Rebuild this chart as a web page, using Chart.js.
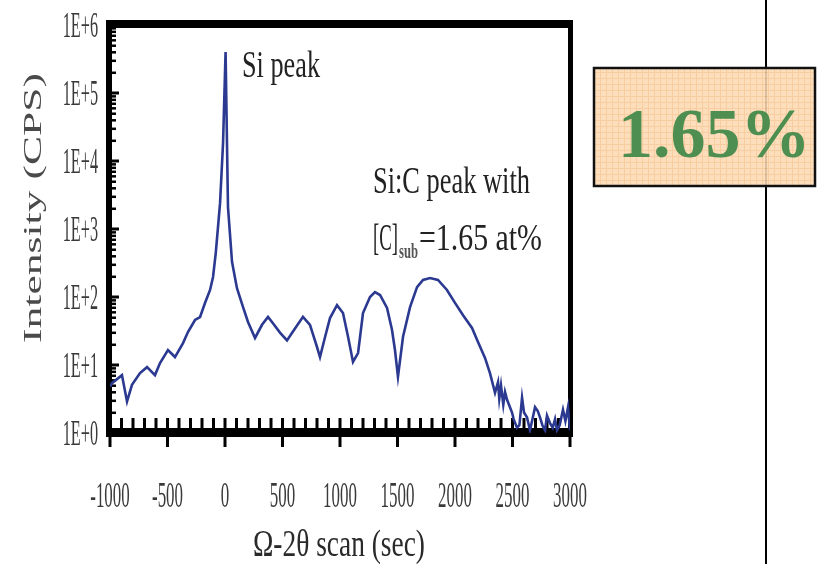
<!DOCTYPE html>
<html>
<head>
<meta charset="utf-8">
<script src="https://cdn.jsdelivr.net/npm/chart.js@4/dist/chart.umd.min.js"></script>
<style>
  html, body { margin: 0; padding: 0; background: #ffffff; }
  #wrap { width: 822px; height: 564px; }
</style>
</head>
<body>
<div id="wrap"><canvas id="xrd" width="822" height="564"></canvas></div>
<script>
// Ω-2θ rocking curve of a Si:C layer on Si (intensity in counts per second)
const scanSec = [
  -1000, -983, -896, -852, -809, -739, -678, -609, -565, -496, -435, -365, -322, -261, -217,
  -174, -130, -104, -80, -43, -17, 5, 26, 61, 104, 157, 200, 261, 322, 374, 417, 478, 539,
  591, 678, 739, 800, 826, 870, 913, 974, 1026, 1070, 1113, 1157, 1200, 1261, 1304, 1348,
  1409, 1452, 1478, 1504, 1548, 1609, 1670, 1722, 1783, 1852, 1930, 2000, 2070, 2148, 2200,
  2261, 2304, 2348, 2374, 2385, 2400, 2420, 2435, 2452, 2496, 2510, 2539, 2560, 2583, 2600,
  2626, 2652, 2670, 2696, 2720, 2739, 2760, 2783, 2800, 2826, 2850, 2870, 2887, 2910, 2939,
  2960, 2983, 3000
];
const intensityCps = [
  4.8, 5.4, 7.1, 2.9, 5.1, 7.6, 9.3, 7.1, 10.7, 16.6, 13.1, 21, 30.6, 45.9, 50.8,
  81.6, 127, 197, 450, 2400, 18300, 400000, 2100, 330, 135, 71, 43, 25, 39, 51, 41, 30, 23,
  31, 51, 39, 18.4, 13.1, 25.8, 49, 76, 58, 26, 11.1, 15, 58, 100, 118, 107,
  69, 33, 16.6, 6.7, 26, 71, 140, 178, 190, 178, 127, 82, 54, 35, 21.8,
  12.7, 7.6, 3.9, 5.6, 3.2, 5.0, 2.6, 4.0, 3.1, 2.0, 1.6, 1.2, 1.3, 3.3, 2.0,
  1.7, 1.1, 1.5, 2.4, 2.1, 1.7, 1.3, 1.1, 1.8, 1.4, 1.2, 1.6, 1.1, 1.3, 2.2,
  1.5, 2.4, 1.1
];

const xTickValues = [-1000, -500, 0, 500, 1000, 1500, 2000, 2500, 3000];
const xTickLabels = ['-1000', '-500', '0', '500', '1000', '1500', '2000', '2500', '3000'];
const yTickValues = [1, 10, 100, 1000, 10000, 100000, 1000000];
const yTickLabels = ['1E+0', '1E+1', '1E+2', '1E+3', '1E+4', '1E+5', '1E+6'];

const xTitle = 'Ω-2θ scan (sec)';
const yTitle = 'Intensity (CPS)';
const siPeakLabel = 'Si peak';
const sicLine1 = 'Si:C peak with';
const sicLine2a = '[C]';
const sicLine2sub = 'sub';
const sicLine2b = '=1.65 at%';
const boxLabel = '1.65%';

const SERIF = '"Liberation Serif", "Times New Roman", serif';

// Draws text squeezed horizontally, either to a target width or by a fixed factor.
function drawText(ctx, text, x, y, o) {
  ctx.save();
  ctx.font = o.font;
  ctx.fillStyle = o.color;
  ctx.textBaseline = 'alphabetic';
  ctx.textAlign = 'left';
  const w = ctx.measureText(text).width;
  const sx = o.width ? o.width / w : (o.sx || 1);
  const dw = w * sx;
  let left = x;
  if (o.align === 'center') left = x - dw / 2;
  else if (o.align === 'right') left = x - dw;
  ctx.translate(left, y);
  ctx.scale(sx, 1);
  ctx.fillText(text, 0, 0);
  ctx.restore();
}

// Plot frame, axes and tick marks, placed through the chart scales.
const framePlugin = {
  id: 'frame',
  beforeDatasetsDraw(chart) {
    const { ctx, chartArea: a, scales: { x, y } } = chart;
    ctx.save();
    ctx.fillStyle = '#000';
    ctx.fillRect(a.left - 4, a.top - 5, a.right - a.left + 7, 8);      // top border
    ctx.fillRect(a.right - 2, a.top - 5, 5, a.bottom - a.top + 9);      // right border
    ctx.fillRect(a.left - 4, a.top - 5, 6, a.bottom - a.top + 9);       // left axis
    ctx.fillRect(a.left - 4, a.bottom - 5, a.right - a.left + 7, 9);    // bottom axis

    for (let v = -1000; v <= 3000; v += 100) {
      const px = x.getPixelForValue(v);
      ctx.fillRect(px - 1.5, a.bottom - 15, 3, 10);
      if (v % 500 === 0) ctx.fillRect(px - 1.5, a.bottom + 4, 3, 10);
    }
    for (let k = 0; k < 6; k++) {
      const base = Math.pow(10, k);
      for (let m = 2; m <= 9; m++) {
        const py = y.getPixelForValue(base * m);
        ctx.fillRect(a.left + 2, py - 1, 4, 2.5);
      }
    }
    yTickValues.forEach(v => {
      const py = y.getPixelForValue(v);
      ctx.fillRect(a.left + 2, py - 1.5, 7, 3);
    });
    ctx.restore();
  }
};

// Tick labels, axis titles, peak annotations and the concentration box.
const textPlugin = {
  id: 'texts',
  afterDraw(chart) {
    const { ctx, chartArea: a, scales: { x, y } } = chart;

    yTickValues.forEach((v, i) => {
      const py = y.getPixelForValue(v);
      drawText(ctx, yTickLabels[i], 98, py + 12, { font: '36px ' + SERIF, color: '#3a3a3a', sx: 0.45, align: 'right' });
    });
    xTickValues.forEach((v, i) => {
      const px = x.getPixelForValue(v);
      drawText(ctx, xTickLabels[i], px, 507, { font: '36px ' + SERIF, color: '#3a3a3a', sx: 0.47, align: 'center' });
    });

    // x axis title
    drawText(ctx, xTitle, 339, 556, { font: '38px ' + SERIF, color: '#2a2a2a', width: 172, align: 'center' });

    // y axis title, reading upward
    ctx.save();
    ctx.font = '42px ' + SERIF;
    const tw = ctx.measureText(yTitle).width;
    ctx.translate(34, 208);
    ctx.rotate(-Math.PI / 2);
    ctx.scale(270 / tw, 0.62);
    ctx.fillStyle = '#4a4a4a';
    ctx.textAlign = 'center';
    ctx.textBaseline = 'middle';
    ctx.fillText(yTitle, 0, 0);
    ctx.restore();

    // annotations
    drawText(ctx, siPeakLabel, 242, 77, { font: '38px ' + SERIF, color: '#222', width: 78 });
    drawText(ctx, sicLine1, 373, 193, { font: '38px ' + SERIF, color: '#222', width: 157 });
    drawText(ctx, sicLine2a, 373, 250, { font: '38px ' + SERIF, color: '#222', width: 25 });
    drawText(ctx, sicLine2sub, 399, 258, { font: 'bold 20px ' + SERIF, color: '#555', width: 19 });
    drawText(ctx, sicLine2b, 419, 250, { font: '38px ' + SERIF, color: '#222', width: 123 });

    // separator line
    ctx.save();
    ctx.strokeStyle = '#000';
    ctx.lineWidth = 2;
    ctx.beginPath();
    ctx.moveTo(766, 0);
    ctx.lineTo(766, 564);
    ctx.stroke();

    // orange box with fine grid texture
    const tile = document.createElement('canvas');
    tile.width = 6; tile.height = 6;
    const t = tile.getContext('2d');
    t.fillStyle = '#fcdab3';
    t.fillRect(0, 0, 6, 6);
    t.fillStyle = '#f7c792';
    t.fillRect(0, 0, 6, 1);
    t.fillRect(0, 0, 1, 6);
    ctx.globalAlpha = 0.88;
    ctx.fillStyle = ctx.createPattern(tile, 'repeat');
    ctx.fillRect(594, 68, 221, 118);
    ctx.globalAlpha = 1;
    ctx.strokeStyle = '#111';
    ctx.lineWidth = 2.5;
    ctx.strokeRect(594, 68, 221, 118);
    ctx.restore();

    drawText(ctx, boxLabel, 618, 157, { font: 'bold 70px ' + SERIF, color: '#4e8e50' });
  }
};

new Chart(document.getElementById('xrd'), {
  type: 'line',
  data: {
    datasets: [{
      data: scanSec.map((v, i) => ({ x: v, y: intensityCps[i] })),
      borderColor: '#2b3990',
      borderWidth: 2.6,
      pointRadius: 0,
      tension: 0,
      fill: false
    }]
  },
  options: {
    responsive: false,
    animation: false,
    devicePixelRatio: 1,
    layout: { padding: { left: 110, right: 252, top: 25, bottom: 131 } },
    plugins: { legend: { display: false }, tooltip: { enabled: false } },
    scales: {
      x: {
        type: 'linear', min: -1000, max: 3000,
        afterFit(s) { s.height = 0; },
        ticks: { display: false }, grid: { display: false }, border: { display: false }
      },
      y: {
        type: 'logarithmic', min: 1, max: 1000000,
        afterFit(s) { s.width = 0; },
        ticks: { display: false }, grid: { display: false }, border: { display: false }
      }
    }
  },
  plugins: [framePlugin, textPlugin]
});
</script>
</body>
</html>
